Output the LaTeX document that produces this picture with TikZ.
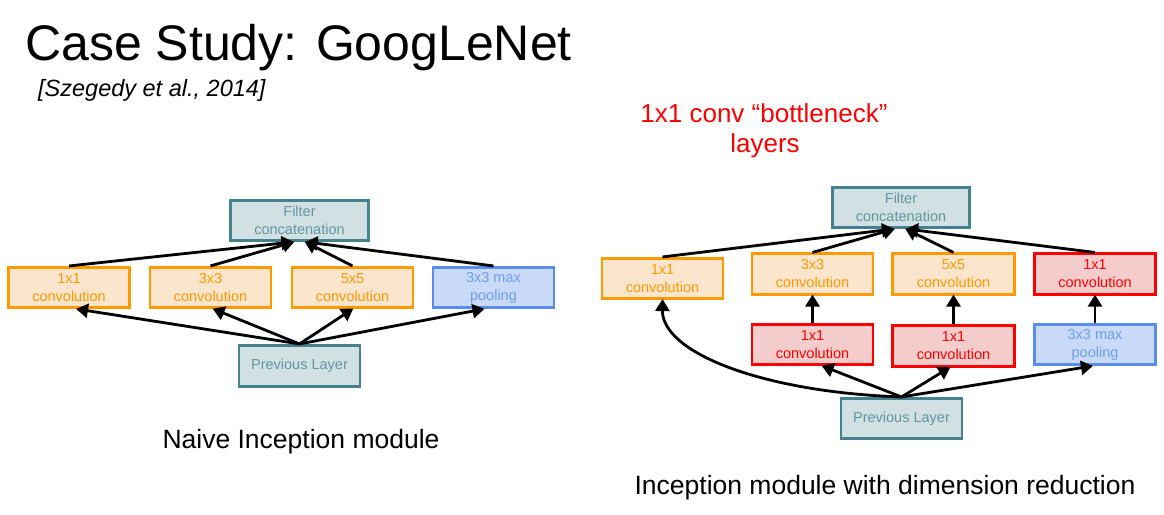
\documentclass[tikz,border=0pt]{standalone}
\usepackage{fontspec}
\setmainfont{Liberation Sans}
\usetikzlibrary{arrows.meta}
\definecolor{tealB}{RGB}{69,129,142}
\definecolor{tealF}{RGB}{208,224,227}
\definecolor{tealT}{RGB}{100,150,160}
\definecolor{orB}{RGB}{255,153,0}
\definecolor{orF}{RGB}{252,229,205}
\definecolor{redB}{RGB}{255,0,0}
\definecolor{redF}{RGB}{244,204,204}
\definecolor{bluB}{RGB}{90,140,235}
\definecolor{bluF}{RGB}{201,218,248}
\definecolor{bluT}{RGB}{109,158,235}
\tikzset{
  box/.style={rectangle, line width=2.6pt, inner sep=0pt, align=center,
    minimum width=121pt, minimum height=40.5pt, font=\fontsize{14.5}{18}\selectfont},
  tbox/.style={box, draw=tealB, fill=tealF, text=tealT},
  obox/.style={box, draw=orB, fill=orF, text=orB},
  rbox/.style={box, draw=redB, fill=redF, text=redB},
  bbox/.style={box, draw=bluB, fill=bluF, text=bluT},
  arr/.style={line width=2.8pt, -{Triangle[length=12pt,width=14pt]}, shorten >=-1pt},
  caption/.style={anchor=base, inner sep=0pt, font=\fontsize{26.5}{30}\selectfont}
}
\begin{document}
\begin{tikzpicture}[x=1pt, y=-1pt]
\useasboundingbox (0,0) rectangle (1164,514);
% titles
\node[anchor=base west, inner sep=0pt, font=\fontsize{50}{60}\selectfont] (title) at (25,60) {Case Study: GoogLeNet};
\node[anchor=base west, inner sep=0pt, font=\fontsize{23.5}{28}\selectfont\itshape] (cite) at (38,96) {[Szegedy et al., 2014]};
\node[anchor=base, inner sep=0pt, text=redB, font=\fontsize{26}{30}\selectfont] (bn1) at (764,122) {1x1 conv “bottleneck”};
\node[anchor=base, inner sep=0pt, text=redB, font=\fontsize{26}{30}\selectfont] (bn2) at (765,152) {layers};
\node[caption] (cap1) at (301,448) {Naive Inception module};
\node[caption] (cap2) at (885,494) {Inception module with dimension reduction};

% naive module
\node[tbox, minimum width=138pt] (filt1) at (299.5,220.5) {Filter\\concatenation};
\node[obox] (c11) at (69,287.5) {1x1\\convolution};
\node[obox] (c33) at (210.5,287.5) {3x3\\convolution};
\node[obox] (c55) at (352.5,287.5) {5x5\\convolution};
\node[bbox] (mp1) at (493.5,287.5) {3x3 max\\pooling};
\node[tbox, minimum height=41.5pt] (prev1) at (299.5,366) {Previous Layer};

\draw[arr] (c11.north) -- ([xshift=-7pt]filt1.south);
\draw[arr] (c33.north) -- ([xshift=-6pt]filt1.south);
\draw[arr] (c55.north) -- ([xshift=6pt]filt1.south);
\draw[arr] (mp1.north) -- ([xshift=7pt]filt1.south);
\draw[arr] (prev1.north) -- ([xshift=8pt]c11.south);
\draw[arr] (prev1.north) -- ([xshift=3pt]c33.south);
\draw[arr] (prev1.north) -- (c55.south);
\draw[arr] (prev1.north) -- ([xshift=-10pt]mp1.south);

% module with dimension reduction
\node[tbox, minimum width=137.5pt] (filt2) at (901,207.5) {Filter\\concatenation};
\node[obox] (r11) at (662.5,278.5) {1x1\\convolution};
\node[obox] (r33) at (812.5,274) {3x3\\convolution};
\node[obox, minimum width=122.5pt] (r55) at (953.5,274) {5x5\\convolution};
\node[rbox] (rr1) at (1095,274) {1x1\\convolution};
\node[rbox] (rb1) at (812.5,344.5) {1x1\\convolution};
\node[rbox, minimum width=122.5pt] (rb2) at (953.5,346) {1x1\\convolution};
\node[bbox] (mp2) at (1095,344.5) {3x3 max\\pooling};
\node[tbox] (prev2) at (901.5,418.5) {Previous Layer};

\draw[arr] (r11.north) -- ([xshift=-8pt]filt2.south);
\draw[arr] (r33.north) -- ([xshift=-7pt]filt2.south);
\draw[arr] (r55.north) -- ([xshift=5pt]filt2.south);
\draw[arr] (rr1.north) -- ([xshift=6pt]filt2.south);
\draw[arr] (rb1.north) -- (r33.south);
\draw[arr] (rb2.north) -- (r55.south);
\draw[arr] (mp2.north) -- (rr1.south);
\draw[arr] (prev2.north) -- ([xshift=10pt]rb1.south);
\draw[arr] (prev2.north) -- ([xshift=-4pt]rb2.south);
\draw[arr] (prev2.north) -- ([xshift=-3pt]mp2.south);
\draw[arr] (prev2.north) .. controls (760,392) and (662,352) .. (r11.south);
\end{tikzpicture}
\end{document}
